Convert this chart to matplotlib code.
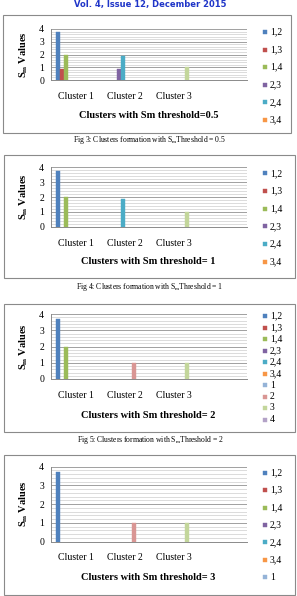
import matplotlib
matplotlib.use("Agg")
import matplotlib.pyplot as plt
from matplotlib.patches import Rectangle
import numpy as np

plt.rcParams['mathtext.default'] = 'regular'

# ---------------- data ----------------
categories = ["Cluster 1", "Cluster 2", "Cluster 3", ""]
series_names = ["1,2", "1,3", "1,4", "2,3", "2,4", "3,4", "1", "2", "3", "4"]
series_colors = ["#4F81BD", "#C0504D", "#9BBB59", "#8064A2", "#4BACC6", "#F79646",
                 "#95B3D7", "#D99694", "#C3D69B", "#B3A2C7"]
yticks = [0, 1, 2, 3, 4]

# rows = series (order of series_names), columns = categories
values_t05 = [[3.75, 0, 0, 0], [0.9, 0, 0, 0], [2.0, 0, 0, 0], [0, 0.9, 0, 0],
              [0, 1.85, 0, 0], [0, 0, 0, 0], [0, 0, 0, 0], [0, 0, 0, 0],
              [0, 0, 1.0, 0], [0, 0, 0, 0]]
values_t1 = [[3.75, 0, 0, 0], [0, 0, 0, 0], [2.0, 0, 0, 0], [0, 0, 0, 0],
             [0, 1.85, 0, 0], [0, 0, 0, 0], [0, 0, 0, 0], [0, 0, 0, 0],
             [0, 0, 1.0, 0], [0, 0, 0, 0]]
values_t2 = [[3.7, 0, 0, 0], [0, 0, 0, 0], [2.0, 0, 0, 0], [0, 0, 0, 0],
             [0, 0, 0, 0], [0, 0, 0, 0], [0, 0, 0, 0], [0, 1.0, 0, 0],
             [0, 0, 1.0, 0], [0, 0, 0, 0]]
values_t3 = [[3.7, 0, 0, 0], [0, 0, 0, 0], [0, 0, 0, 0], [0, 0, 0, 0],
             [0, 0, 0, 0], [0, 0, 0, 0], [0, 0, 0, 0], [0, 1.0, 0, 0],
             [0, 0, 1.0, 0], [0, 0, 0, 0]]

xlabels = ["Clusters with Sm threshold=0.5", "Clusters with Sm threshold= 1",
           "Clusters with Sm threshold= 2", "Clusters with Sm threshold= 3"]
captions = ["Fig 3: Clusters formation with S$_m$Threshold = 0.5",
            "Fig 4: Clusters formation with S$_m$Threshold = 1",
            "Fig 5: Clusters formation with S$_m$Threshold = 2"]
legend_counts = [6, 6, 10, 7]
header = "Vol. 4, Issue 12, December 2015"

# ---------------- layout (pixels) ----------------
W, H = 297, 596
fig = plt.figure(figsize=(W / 100, H / 100), dpi=100)

def fx(x):
    return x / W

def fy(y):
    return 1 - y / H

boxes = [(3, 15, 291, 133), (4, 155, 295, 278), (4, 304, 295, 432), (4, 455, 295, 595)]
plots = [(29, 80), (167.5, 226.7), (314, 379), (466.7, 541.5)]  # (y at 4, y at 0)
xlabel_y = [115, 262, 415, 577]
legend_first = [32, 173.3, 316, 472.7]
legend_step = [17.6, 17.7, 11.5, 17.4]
caption_y = [140, 287, 440]
plot_left, plot_right = 51, 247

serif = ['Liberation Serif', 'DejaVu Serif']

fig.text(fx(150), fy(4.2), header, ha='center', va='center', color='#1F35C8',
         fontsize=6.0, fontweight='bold', family='DejaVu Sans')

all_values = [values_t05, values_t1, values_t2, values_t3]
n_series = len(series_names)
bw = 0.078
x = np.arange(len(categories))

for k in range(4):
    bx0, by0, bx1, by1 = boxes[k]
    fig.patches.append(Rectangle((fx(bx0), fy(by1)), fx(bx1 - bx0), (by1 - by0) / H,
                                 transform=fig.transFigure, fill=False,
                                 edgecolor='#8a8a8a', lw=0.8))
    ytop, ybot = plots[k]
    ax = fig.add_axes([fx(plot_left), fy(ybot), fx(plot_right - plot_left), (ybot - ytop) / H])
    vals = all_values[k]
    for i in range(n_series):
        offs = (i - (n_series - 1) / 2) * bw
        v = np.array(vals[i], dtype=float)
        bars = ax.bar(x + offs, v, width=bw, color=series_colors[i],
                      edgecolor=series_colors[i], linewidth=0.3, zorder=3)
        for b, val in zip(bars, v):
            if val == 0:
                b.set_visible(False)
    ax.set_xlim(-0.5, len(categories) - 0.5)
    ax.set_ylim(0, 4)
    ax.set_yticks(yticks)
    ax.set_yticklabels([str(t) for t in yticks], family=serif, fontsize=7)
    ax.set_yticks(np.arange(0, 4.01, 0.2), minor=True)
    ax.grid(axis='y', which='minor', color='#d6d6d6', lw=0.6, zorder=0)
    ax.grid(axis='y', which='major', color='#a0a0a0', lw=0.7, zorder=0)
    ax.set_xticks(x)
    ax.set_xticklabels(categories, family=serif, fontsize=7)
    ax.tick_params(axis='x', length=0, pad=8.5)
    ax.tick_params(axis='y', which='both', length=0, pad=5)
    for s in ['top', 'right']:
        ax.spines[s].set_visible(False)
    for s in ['left', 'bottom']:
        ax.spines[s].set_color('#8a8a8a')
        ax.spines[s].set_linewidth(0.7)
    ax.set_xlabel(xlabels[k], family=serif, fontsize=7.5, fontweight='bold')
    ax.xaxis.set_label_coords((148.5 - plot_left) / (plot_right - plot_left),
                              -(xlabel_y[k] - ybot) / (ybot - ytop))
    ax.xaxis.label.set_va('center')
    ax.set_ylabel("S$_m$ Values", family=serif, fontsize=7.5, fontweight='bold')
    ax.yaxis.set_label_coords(-(plot_left - 23.5) / (plot_right - plot_left), 0.5)
    ax.yaxis.label.set_va('center')
    ax.set_facecolor('none')
    # legend
    for j in range(legend_counts[k]):
        yy = legend_first[k] + j * legend_step[k]
        fig.patches.append(Rectangle((fx(263), fy(yy + 2)), fx(4), 4 / H,
                                     transform=fig.transFigure,
                                     facecolor=series_colors[j], edgecolor=series_colors[j], lw=0.3))
        fig.text(fx(270), fy(yy), series_names[j], ha='left', va='center',
                 family=serif, fontsize=7)
    if k < 3:
        fig.text(fx(150), fy(caption_y[k]), captions[k], ha='center', va='center',
                 family=serif, fontsize=5.5)

fig.savefig("out.png", dpi=100)
